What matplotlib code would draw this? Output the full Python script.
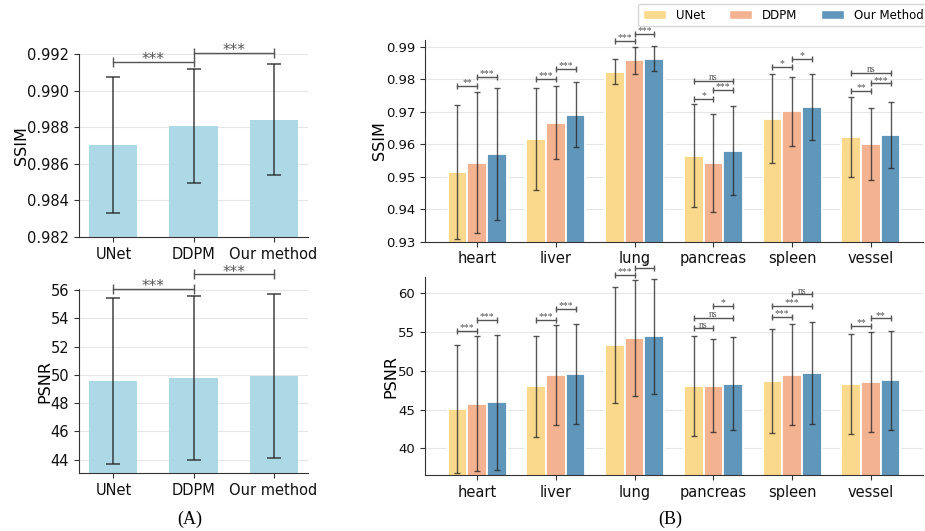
import matplotlib
matplotlib.use("Agg")
import matplotlib.pyplot as plt
import matplotlib.ticker as ticker
import numpy as np
from matplotlib.patches import Patch

# ---- panel A data (overall) ----
methods_a = ["UNet", "DDPM", "Our method"]
ssim_a_mean = [0.98703, 0.98805, 0.98841]
ssim_a_std = [0.00374, 0.00312, 0.00303]
psnr_a_mean = [49.57, 49.77, 49.93]
psnr_a_std = [5.84, 5.79, 5.79]
# (i, j, height, label)
ssim_a_sig = [(0, 1, 0.99158, "***"), (1, 2, 0.99204, "***")]
psnr_a_sig = [(0, 1, 56.08, "***"), (1, 2, 57.10, "***")]

# ---- panel B data (per organ) ----
organs = ["heart", "liver", "lung", "pancreas", "spleen", "vessel"]
methods_b = ["UNet", "DDPM", "Our Method"]
ssim_unet = [0.9515, 0.9616, 0.9823, 0.9565, 0.9678, 0.9621]
ssim_ddpm = [0.9543, 0.9666, 0.9858, 0.9542, 0.9701, 0.9601]
ssim_ours = [0.9570, 0.9691, 0.9863, 0.9580, 0.9714, 0.9628]
ssim_unet_std = [0.0207, 0.0157, 0.0039, 0.0158, 0.0137, 0.0123]
ssim_ddpm_std = [0.0217, 0.0112, 0.0042, 0.0151, 0.0106, 0.0111]
ssim_ours_std = [0.0204, 0.0099, 0.0038, 0.0136, 0.0102, 0.0101]
psnr_unet = [45.06, 48.00, 53.32, 48.02, 48.67, 48.30]
psnr_ddpm = [45.73, 49.40, 54.27, 48.08, 49.52, 48.58]
psnr_ours = [45.92, 49.62, 54.43, 48.31, 49.70, 48.77]
psnr_unet_std = [8.28, 6.53, 7.50, 6.45, 6.75, 6.45]
psnr_ddpm_std = [8.71, 6.45, 7.47, 6.02, 6.53, 6.43]
psnr_ours_std = [8.73, 6.47, 7.44, 6.00, 6.54, 6.41]
# (organ, i, j, height, label)
ssim_b_sig = [
    (0, 0, 1, 0.9780, "**"), (0, 1, 2, 0.9808, "***"),
    (1, 0, 1, 0.9801, "***"), (1, 1, 2, 0.9831, "***"),
    (2, 0, 1, 0.9917, "***"), (2, 1, 2, 0.9940, "***"),
    (3, 0, 1, 0.9740, "*"), (3, 1, 2, 0.9767, "***"), (3, 0, 2, 0.9795, "ns"),
    (4, 0, 1, 0.9838, "*"), (4, 1, 2, 0.9862, "*"),
    (5, 0, 1, 0.9764, "**"), (5, 1, 2, 0.9787, "***"), (5, 0, 2, 0.9820, "ns"),
]
psnr_b_sig = [
    (0, 0, 1, 55.18, "***"), (0, 1, 2, 56.56, "***"),
    (1, 0, 1, 56.56, "***"), (1, 1, 2, 57.94, "***"),
    (2, 0, 1, 62.41, "***"), (2, 1, 2, 63.27, "*"),
    (3, 0, 1, 55.48, "ns"), (3, 0, 2, 56.81, "ns"), (3, 1, 2, 58.32, "*"),
    (4, 0, 1, 56.94, "***"), (4, 0, 2, 58.32, "***"), (4, 1, 2, 59.87, "ns"),
    (5, 0, 1, 55.74, "**"), (5, 1, 2, 56.77, "**"),
]

C_A = "#add8e6"
C_B = ["#fad98d", "#f3b391", "#6096ba"]
C_SPINE = "#333333"
C_SIG = "#555555"

W, H = 925, 531
fig = plt.figure(figsize=(W / 100, H / 100), dpi=100)


def px_axes(left, top, right, bottom):
    return fig.add_axes([left / W, 1 - bottom / H, (right - left) / W, (bottom - top) / H])


def style(ax, ysize):
    ax.spines[["top", "right"]].set_visible(False)
    for s in ["left", "bottom"]:
        ax.spines[s].set_color(C_SPINE)
    ax.grid(axis="y", color="#e6e6e6", linewidth=0.8)
    ax.set_axisbelow(True)
    ax.tick_params(labelsize=10.5, color=C_SPINE, labelcolor="#111111")
    ax.tick_params(axis="y", labelsize=ysize)


def bracket(ax, x1, x2, y, label, fs, ms, family, dy):
    ax.plot([x1, x2], [y, y], color=C_SIG, lw=1, marker="|", ms=ms, mew=1,
            clip_on=False, zorder=5)
    ax.annotate(label, ((x1 + x2) / 2, y), xytext=(0, dy), textcoords="offset points",
                ha="center", va="baseline", fontsize=fs, color=C_SIG,
                family=family, annotation_clip=False)


# ---- panel A ----
ax_a1 = px_axes(79, 54, 308, 237)
ax_a2 = px_axes(79, 289.3, 308, 473.3)
xa = np.arange(len(methods_a))
for ax, mean, std, sig, ylab, lim, lx in [
    (ax_a1, ssim_a_mean, ssim_a_std, ssim_a_sig, "SSIM", (0.982, 0.992), -0.2205),
    (ax_a2, psnr_a_mean, psnr_a_std, psnr_a_sig, "PSNR", (43.04, 56.05), -0.116),
]:
    style(ax, 10.5)
    ax.bar(xa, mean, width=0.6, color=C_A)
    ax.errorbar(xa, mean, yerr=std, fmt="none", ecolor="#222222", elinewidth=1.1,
                capsize=5, capthick=1.1, alpha=0.85)
    ax.set_xticks(xa)
    ax.set_xticklabels(methods_a)
    ax.set_ylim(*lim)
    ax.set_ylabel(ylab, fontsize=11.5)
    ax.yaxis.set_label_coords(lx, 0.5)
    for i, j, h, lab in sig:
        bracket(ax, xa[i], xa[j], h, lab, 11, 7, "DejaVu Sans", -1.5)

ax_a1.set_yticks(np.arange(0.982, 0.9921, 0.002))
ax_a1.yaxis.set_major_formatter(ticker.FormatStrFormatter("%.3f"))
ax_a2.set_yticks(np.arange(44, 57, 2))

# ---- panel B ----
ax_b1 = px_axes(425, 39.5, 923, 241.7)
ax_b2 = px_axes(425, 277.3, 923, 475)
xb = np.arange(len(organs))
bw = 0.25
for ax, means, stds, sig, ylab, lim, lx in [
    (ax_b1, [ssim_unet, ssim_ddpm, ssim_ours], [ssim_unet_std, ssim_ddpm_std, ssim_ours_std],
     ssim_b_sig, "SSIM", (0.93, 0.9922), -0.076),
    (ax_b2, [psnr_unet, psnr_ddpm, psnr_ours], [psnr_unet_std, psnr_ddpm_std, psnr_ours_std],
     psnr_b_sig, "PSNR", (36.56, 62.06), -0.053),
]:
    style(ax, 9.5)
    for k in range(3):
        xs = xb + (k - 1) * bw
        ax.bar(xs, means[k], width=bw, color=C_B[k], edgecolor="white", linewidth=1.3)
        ax.errorbar(xs, means[k], yerr=stds[k], fmt="none", ecolor="#222222",
                    elinewidth=1, capsize=2.5, capthick=1, alpha=0.75)
    ax.set_xticks(xb)
    ax.set_xticklabels(organs)
    ax.set_ylim(*lim)
    ax.set_ylabel(ylab, fontsize=11.5)
    ax.yaxis.set_label_coords(lx, 0.5)
    for g, i, j, h, lab in sig:
        bracket(ax, xb[g] + (i - 1) * bw, xb[g] + (j - 1) * bw, h, lab, 7, 4,
                "Liberation Serif", 0.5)

ax_b1.set_yticks(np.arange(0.93, 0.9901, 0.01))
ax_b1.yaxis.set_major_formatter(ticker.FormatStrFormatter("%.2f"))
ax_b2.set_yticks([40, 45, 50, 55, 60])

handles = [Patch(facecolor=c, edgecolor="white", label=m) for c, m in zip(C_B, methods_b)]
fig.legend(handles=handles, loc="upper left", bbox_to_anchor=(638 / W, 1 - 4 / H),
           ncol=3, fontsize=8.5, borderaxespad=0, frameon=True, edgecolor="#cccccc")

fig.text(190 / W, 1 - 519 / H, "(A)", ha="center", va="center",
         family="Liberation Serif", fontsize=13)
fig.text(670 / W, 1 - 519 / H, "(B)", ha="center", va="center",
         family="Liberation Serif", fontsize=13)

fig.savefig("out.png", dpi=100)
